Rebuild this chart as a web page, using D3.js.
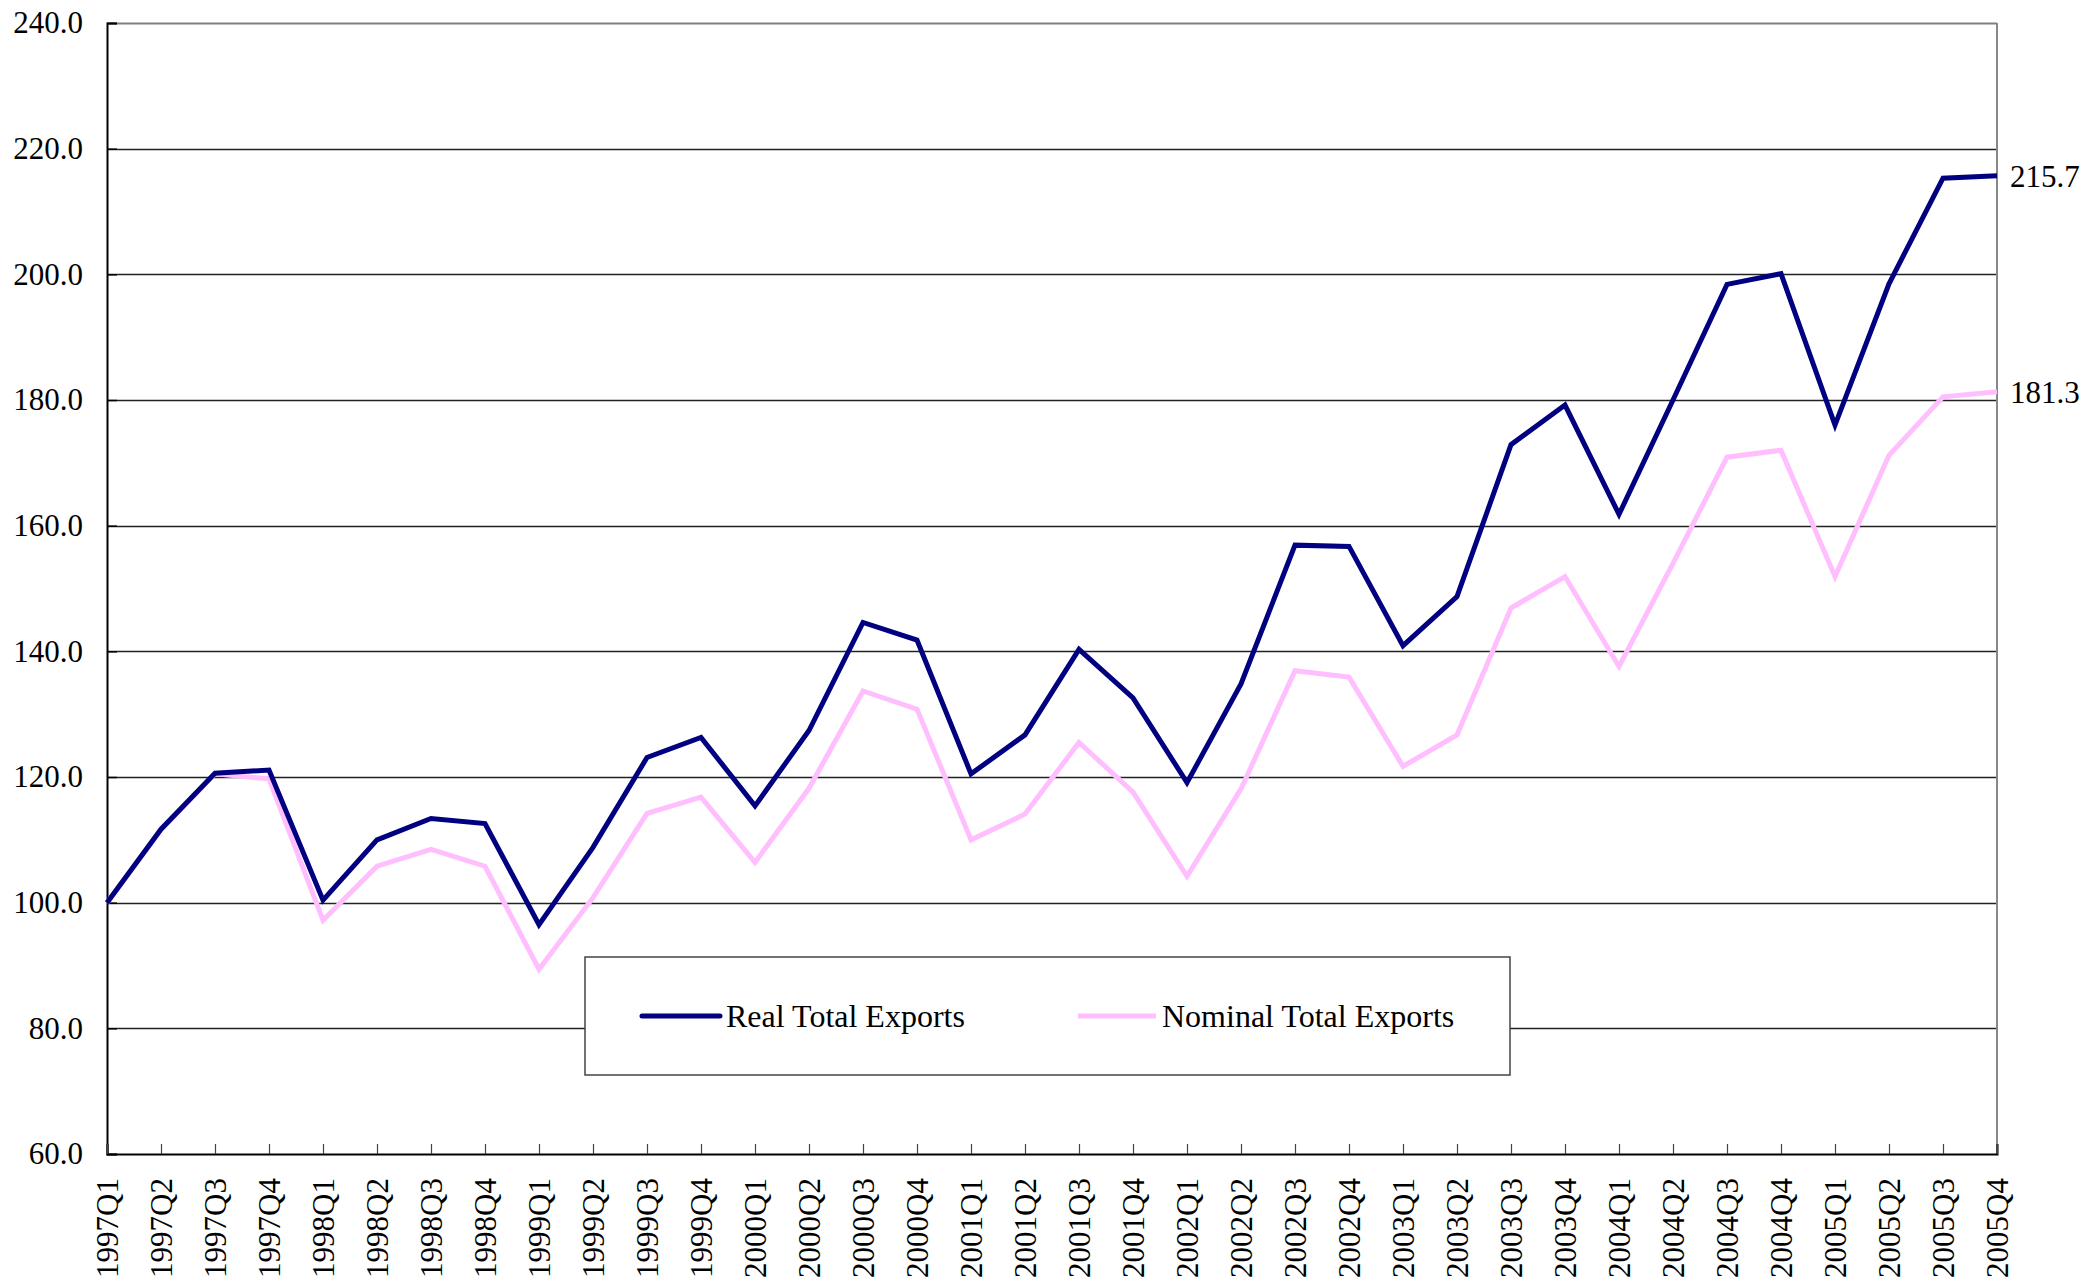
<!DOCTYPE html>
<html>
<head>
<meta charset="utf-8">
<script src="https://cdn.jsdelivr.net/npm/d3@7"></script>
<style>
  body { margin: 0; background: #fff; }
  svg text { font-family: "Liberation Serif", "Times New Roman", serif; fill: #000; }
</style>
</head>
<body>
<svg id="chart"></svg>
<script>
const quarters = [
  "1997Q1", "1997Q2", "1997Q3", "1997Q4", "1998Q1", "1998Q2", "1998Q3", "1998Q4",
  "1999Q1", "1999Q2", "1999Q3", "1999Q4", "2000Q1", "2000Q2", "2000Q3", "2000Q4",
  "2001Q1", "2001Q2", "2001Q3", "2001Q4", "2002Q1", "2002Q2", "2002Q3", "2002Q4",
  "2003Q1", "2003Q2", "2003Q3", "2003Q4", "2004Q1", "2004Q2", "2004Q3", "2004Q4",
  "2005Q1", "2005Q2", "2005Q3", "2005Q4"
];
const realExports = [
  100.0, 111.7, 120.6, 121.1, 100.4, 110.0, 113.4, 112.6,
  96.5, 108.8, 123.1, 126.3, 115.4, 127.4, 144.6, 141.8,
  120.5, 126.7, 140.3, 132.6, 119.1, 134.8, 156.9, 156.7,
  140.9, 148.7, 172.9, 179.2, 161.8, 180.0, 198.4, 200.1,
  176.0, 198.5, 215.3, 215.7
];
const nominalExports = [
  100.0, 111.6, 120.5, 119.7, 97.2, 105.8, 108.5, 105.8,
  89.4, 100.8, 114.2, 116.8, 106.4, 118.2, 133.7, 130.8,
  110.0, 114.1, 125.5, 117.6, 104.2, 118.1, 136.9, 135.9,
  121.7, 126.7, 146.9, 151.9, 137.6, 154.0, 170.9, 172.0,
  151.9, 171.2, 180.5, 181.3
];
const yTicks = [60, 80, 100, 120, 140, 160, 180, 200, 220, 240];
const seriesNames = ["Real Total Exports", "Nominal Total Exports"];
const seriesColours = ["#000080", "#ffbfff"];

const chartSize = { width: 2085, height: 1283 };
const margin = { left: 107, right: 88, top: 23, bottom: 129 };
const width = chartSize.width - (margin.left + margin.right);
const height = chartSize.height - (margin.top + margin.bottom);

const svg = d3.select("#chart")
  .attr("width", chartSize.width)
  .attr("height", chartSize.height);

const g = svg.append("g")
  .attr("transform", `translate(${margin.left}, ${margin.top})`);

const xScale = d3.scalePoint().domain(quarters).range([0, width]);
const yScale = d3.scaleLinear().domain([60, 240]).range([height, 0]);

// gridlines
g.selectAll(".grid")
  .data(yTicks.slice(1))
  .enter()
  .append("line")
  .attr("class", "grid")
  .attr("x1", 0)
  .attr("x2", width)
  .attr("y1", d => Math.round(yScale(d)) + 0.5)
  .attr("y2", d => Math.round(yScale(d)) + 0.5)
  .attr("stroke", d => (d === 240 ? "#808080" : "#222"))
  .attr("stroke-width", d => (d === 240 ? 2 : 1.3));

// right border
g.append("line")
  .attr("x1", width).attr("x2", width)
  .attr("y1", 0).attr("y2", height)
  .attr("stroke", "#888").attr("stroke-width", 2);

// y axis
const yAxis = d3.axisLeft(yScale)
  .tickValues(yTicks)
  .tickFormat(d3.format(".1f"))
  .tickSize(-10)
  .tickPadding(24);

const yAxisG = g.append("g").attr("class", "y-axis").call(yAxis);
yAxisG.select(".domain").attr("stroke", "#000").attr("stroke-width", 2);
yAxisG.selectAll(".tick line").attr("stroke", "#000").attr("stroke-width", 1.5);
yAxisG.selectAll("text")
  .style("font-size", "31px")
  .attr("font-family", null);

// x axis
const xAxis = d3.axisBottom(xScale).tickSize(-10).tickPadding(0);
const xAxisG = g.append("g")
  .attr("class", "x-axis")
  .attr("transform", `translate(0, ${height})`)
  .call(xAxis);
xAxisG.select(".domain").attr("stroke", "#000").attr("stroke-width", 2);
xAxisG.selectAll(".tick line").attr("stroke", "#444").attr("stroke-width", 1.2);
xAxisG.selectAll("text")
  .style("font-size", "31px")
  .attr("font-family", null)
  .attr("transform", "rotate(-90)")
  .attr("text-anchor", "end")
  .attr("x", -24)
  .attr("y", 0)
  .attr("dy", "0.35em");

// lines
const line = d3.line()
  .x((d, i) => xScale(quarters[i]))
  .y(d => yScale(d));

[nominalExports, realExports].forEach((values, k) => {
  const colour = k === 0 ? seriesColours[1] : seriesColours[0];
  g.append("path")
    .datum(values)
    .attr("fill", "none")
    .attr("stroke", colour)
    .attr("stroke-width", 5)
    .attr("stroke-linejoin", "miter")
    .attr("d", line);
});

// end labels
[realExports, nominalExports].forEach(values => {
  const last = values[values.length - 1];
  g.append("text")
    .attr("x", width + 13)
    .attr("y", yScale(last))
    .attr("dy", "0.35em")
    .style("font-size", "31px")
    .text(last.toFixed(1));
});

// legend
const legend = svg.append("g").attr("transform", "translate(585, 957)");
legend.append("rect")
  .attr("width", 925)
  .attr("height", 118)
  .attr("fill", "#fff")
  .attr("stroke", "#444")
  .attr("stroke-width", 1.5);

const legendX = [57, 493];
seriesNames.forEach((name, i) => {
  const item = legend.append("g").attr("transform", `translate(${legendX[i]}, 59)`);
  item.append("line")
    .attr("x1", 0).attr("x2", 78)
    .attr("stroke", seriesColours[i])
    .attr("stroke-width", 5)
    .attr("stroke-linecap", i === 0 ? "round" : "butt");
  item.append("text")
    .attr("x", 84)
    .attr("dy", "0.35em")
    .style("font-size", "32px")
    .text(name);
});
</script>
</body>
</html>
